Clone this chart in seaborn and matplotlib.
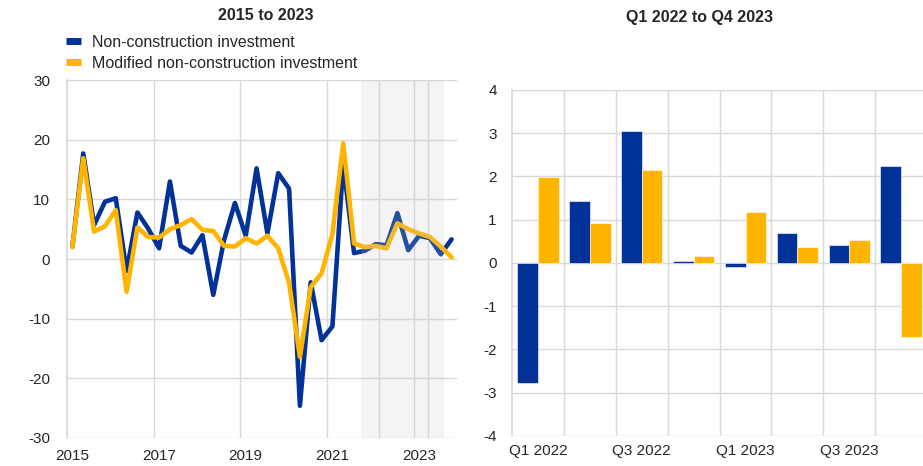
import matplotlib
matplotlib.use("Agg")
import matplotlib.pyplot as plt
from matplotlib.lines import Line2D
import seaborn as sns
import pandas as pd
import numpy as np

# Quarterly series, 2015 Q1 to 2023 Q4 (annual % change)
years = list(range(2015, 2024))
non_construction = [2.1, 17.7, 5.7, 9.6, 10.2, -2.0, 7.8, 5.1, 1.8, 13.0, 2.2, 1.1,
                    4.0, -6.0, 3.2, 9.4, 3.9, 15.2, 4.3, 14.4, 11.8, -24.6, -3.9, -13.6,
                    -11.3, 16.0, 1.0, 1.4, 2.5, 2.3, 7.7, 1.5, 3.9, 3.5, 0.8, 3.3]
modified = [2.0, 16.9, 4.6, 5.5, 8.2, -5.5, 5.3, 3.7, 3.6, 5.0, 5.7, 6.7,
            4.9, 4.7, 2.2, 2.1, 3.5, 2.6, 3.9, 1.8, -4.0, -16.4, -4.7, -2.4,
            4.2, 19.4, 2.6, 2.0, 2.2, 1.8, 6.0, 5.0, 4.3, 3.7, 2.1, 0.3]

# Quarter-on-quarter, Q1 2022 to Q4 2023
quarters = ["Q1 2022", "Q2 2022", "Q3 2022", "Q4 2022",
            "Q1 2023", "Q2 2023", "Q3 2023", "Q4 2023"]
qoq_non_construction = [-2.78, 1.43, 3.06, 0.05, -0.10, 0.70, 0.42, 2.25]
qoq_modified = [1.98, 0.92, 2.16, 0.16, 1.18, 0.36, 0.52, -1.70]

labels = ["Non-construction investment", "Modified non-construction investment"]
blue = "#003299"
yellow = "#FFB400"
grid_col = "#d9d9d9"

sns.set_theme(style="white")
plt.rcParams["font.family"] = ["Liberation Sans", "DejaVu Sans"]
plt.rcParams["axes.unicode_minus"] = False

# time position of each quarter (middle of quarter)
t = [y + (q - 0.5) / 4 for y in years for q in range(1, 5)]
df_lines = pd.DataFrame({
    "t": t * 2,
    "value": non_construction + modified,
    "series": [labels[0]] * len(t) + [labels[1]] * len(t),
})

df_bars = pd.DataFrame({
    "quarter": quarters * 2,
    "value": qoq_non_construction + qoq_modified,
    "series": [labels[0]] * len(quarters) + [labels[1]] * len(quarters),
})

fig = plt.figure(figsize=(9.23, 4.66), dpi=100)
ax1 = fig.add_axes([0.0726, 0.0601, 0.4225, 0.768])
ax2 = fig.add_axes([0.5547, 0.0644, 0.4453, 0.7425])

# Left panel
sns.lineplot(data=df_lines, x="t", y="value", hue="series",
             palette=[blue, yellow], linewidth=3.3, legend=False, ax=ax1, zorder=3)
ax1.axvspan(2021.78, 2023.7, color="#c8c8c8", alpha=0.2, lw=0, zorder=4)
for xv in [2022.19, 2023.32]:
    ax1.axvline(xv, color=grid_col, lw=1, zorder=1)
ax1.set_xlim(2015, 2024)
ax1.set_ylim(-30, 30)
ax1.set_yticks(range(-30, 31, 10))
ax1.set_xticks([2015.125, 2017.125, 2019.125, 2021.125, 2023.125])
ax1.set_xticklabels(["2015", "2017", "2019", "2021", "2023"])
for xv in [2017, 2019, 2021, 2023]:
    ax1.axvline(xv, color=grid_col, lw=1, zorder=1)
ax1.yaxis.grid(True, color=grid_col, lw=1, zorder=1)
ax1.set_xlabel("")
ax1.set_ylabel("")
ax1.tick_params(axis="both", length=0, labelsize=11)
ax1.tick_params(axis="y", pad=12)
ax1.tick_params(axis="x", pad=8)
for s in ["top", "right", "bottom"]:
    ax1.spines[s].set_visible(False)
ax1.spines["left"].set_color(grid_col)
ax1.set_axisbelow(True)

# Right panel
sns.barplot(data=df_bars, x="quarter", y="value", hue="series",
            palette=[blue, yellow], width=0.8, saturation=1,
            edgecolor="white", linewidth=0.4, legend=False, ax=ax2, zorder=3)
ax2.set_xlim(-0.5, 7.42)
ax2.set_ylim(-4, 4)
ax2.set_yticks(range(-4, 5))
ax2.set_xticks([0, 2, 4, 6])
ax2.set_xticklabels([quarters[i] for i in [0, 2, 4, 6]])
for xv in np.arange(0.5, 7, 1):
    ax2.axvline(xv, color=grid_col, lw=1, zorder=1)
ax2.yaxis.grid(True, color=grid_col, lw=1, zorder=1)
ax2.set_xlabel("")
ax2.set_ylabel("")
ax2.tick_params(axis="both", length=0, labelsize=11)
ax2.tick_params(axis="y", pad=11)
ax2.tick_params(axis="x", pad=6)
for s in ["top", "right", "bottom"]:
    ax2.spines[s].set_visible(False)
ax2.spines["left"].set_color(grid_col)
ax2.set_axisbelow(True)

# Titles
fig.text(0.288, 0.967, "2015 to 2023", ha="center", va="center",
         fontsize=11.5, fontweight="bold")
fig.text(0.758, 0.962, "Q1 2022 to Q4 2023", ha="center", va="center",
         fontsize=11.5, fontweight="bold")

# Legend
handles = [Line2D([0], [0], color=blue, lw=5, solid_capstyle="butt"),
           Line2D([0], [0], color=yellow, lw=5, solid_capstyle="butt")]
fig.legend(handles, labels, loc="upper left", bbox_to_anchor=(0.0715, 0.925),
           frameon=False, fontsize=11.5, handlelength=0.95, handletextpad=0.7,
           labelspacing=0.35, borderpad=0, borderaxespad=0)

fig.savefig("out.png", dpi=100)
